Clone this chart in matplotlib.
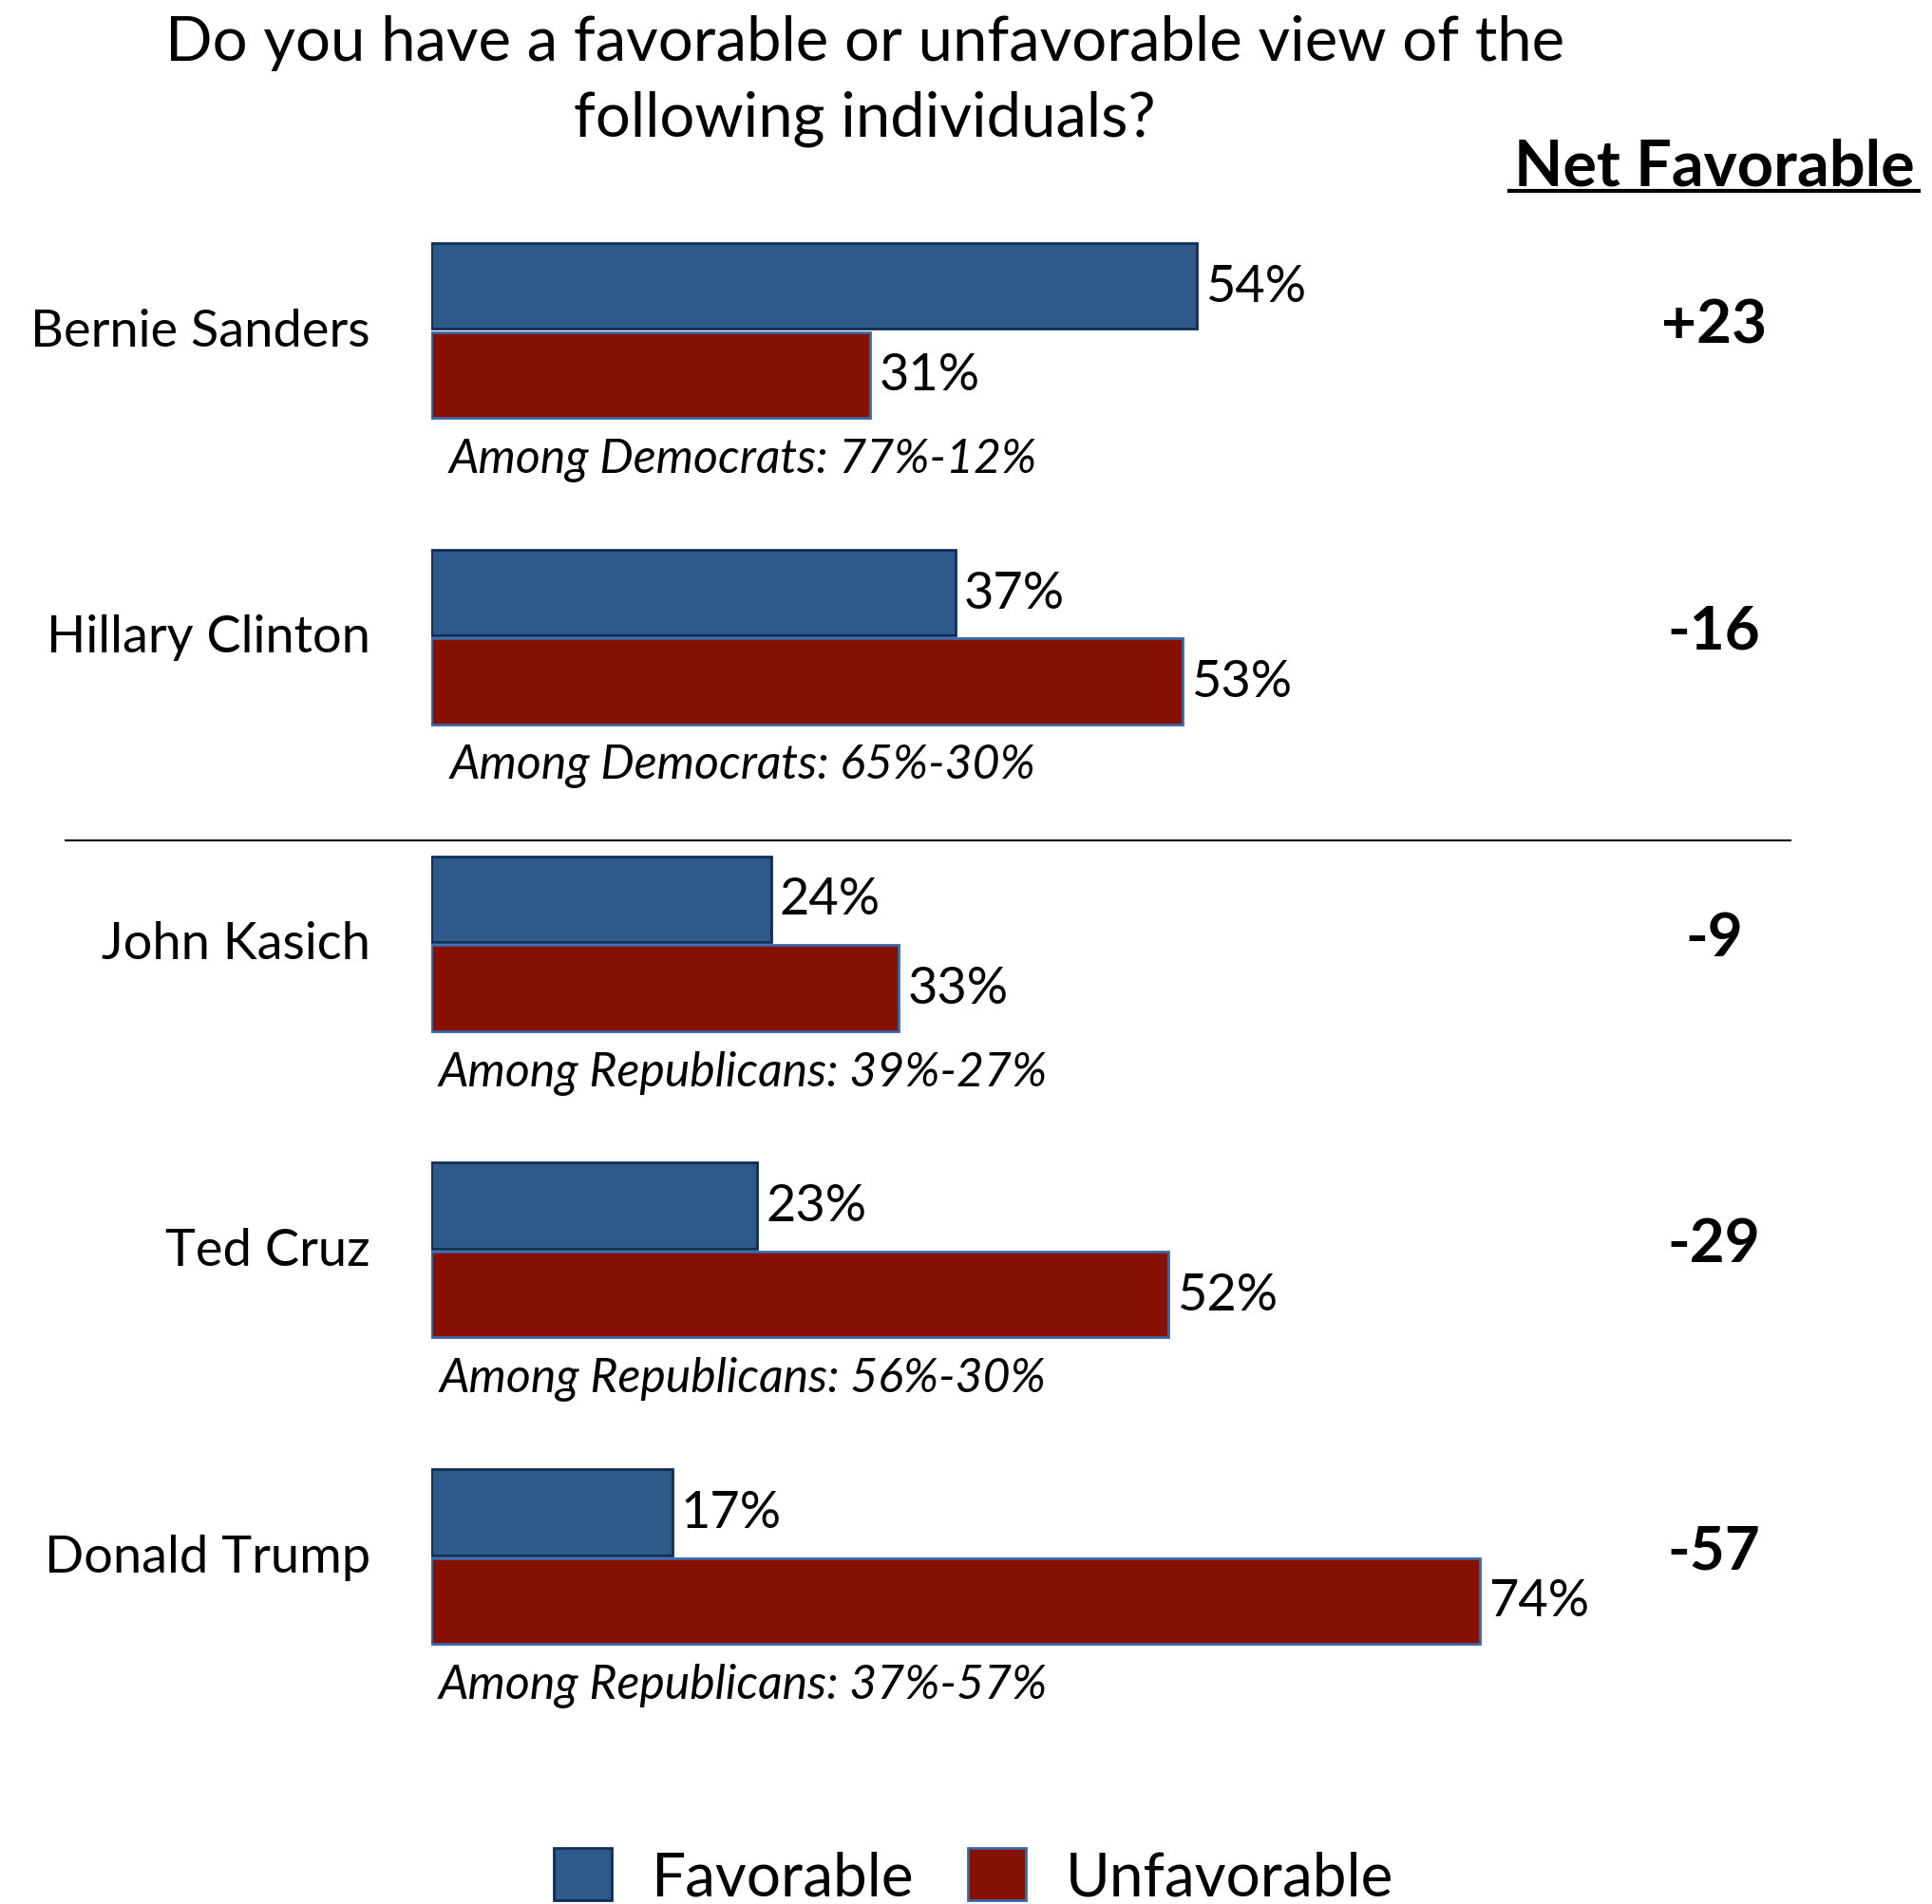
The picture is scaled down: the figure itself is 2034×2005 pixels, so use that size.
import matplotlib.pyplot as plt
from matplotlib.lines import Line2D
from matplotlib.patches import Patch
from matplotlib.transforms import blended_transform_factory
import numpy as np

names = ['Bernie Sanders', 'Hillary Clinton', 'John Kasich', 'Ted Cruz', 'Donald Trump']
favorable = [54, 37, 24, 23, 17]
unfavorable = [31, 53, 33, 52, 74]
net = ['+23', '-16', '-9', '-29', '-57']
notes = ['Among Democrats: 77%-12%', 'Among Democrats: 65%-30%',
         'Among Republicans: 39%-27%', 'Among Republicans: 56%-30%',
         'Among Republicans: 37%-57%']

fav_color = '#2e5a8a'
unfav_color = '#861103'

plt.rcParams['font.family'] = ['Lato', 'DejaVu Sans']

W, H = 1568, 1546  # layout measured on the shrunk picture


def fx(x):
    return x / W


def fy(y):
    return 1 - y / H


fig = plt.figure(figsize=(20.34, 20.06), dpi=100)
ax = fig.add_axes([fx(350), fy(1388.4), 1150 / W, 1243.75 / H])
ax.set_xlim(0, 100)
ax.set_ylim(4.5, -0.5)
ax.axis('off')

y = np.arange(len(names))
h = 0.28
ax.barh(y - 0.145, favorable, height=h, color=fav_color, edgecolor='#0f2d57', linewidth=2)
ax.barh(y + 0.145, unfavorable, height=h, color=unfav_color, edgecolor='#3a67a3', linewidth=2)

net_tr = blended_transform_factory(fig.transFigure, ax.transData)
for i in range(len(names)):
    ax.text(favorable[i] + 0.6, i - 0.145, f'{favorable[i]}%', fontsize=39, va='center', ha='left')
    ax.text(unfavorable[i] + 0.6, i + 0.145, f'{unfavorable[i]}%', fontsize=39, va='center', ha='left')
    ax.text(22, i + 0.42, notes[i], fontsize=36, style='italic', va='center', ha='center')
    ax.text(-4.3, i, names[i], fontsize=39, va='center', ha='right')
    ax.text(fx(1391), i - 0.02, net[i], fontsize=46, fontweight='bold', va='center', ha='center',
            transform=net_tr)

# divider between parties
fig.add_artist(Line2D([fx(53), fx(1453)], [fy(683), fy(683)], color='black', lw=1.5))

fig.text(fx(702), fy(66), 'Do you have a favorable or unfavorable view of the\nfollowing individuals?',
         fontsize=47, ha='center', va='center', linespacing=1.42)

fig.text(fx(1391), fy(136), 'Net Favorable', fontsize=48, fontweight='bold', ha='center', va='center')
fig.add_artist(Line2D([fx(1225), fx(1557)], [fy(156), fy(156)], color='black', lw=3))

handles = [Patch(facecolor=fav_color, edgecolor='#0f2d57', linewidth=2, label='Favorable'),
           Patch(facecolor=unfav_color, edgecolor='#3a67a3', linewidth=2, label='Unfavorable')]
fig.legend(handles=handles, loc='center', bbox_to_anchor=(fx(790), fy(1524)), ncol=2,
           frameon=False, fontsize=46, handlelength=0.95, handleheight=0.95,
           handletextpad=0.65, columnspacing=0.9, borderpad=0)

fig.savefig('out.png', dpi=100)
